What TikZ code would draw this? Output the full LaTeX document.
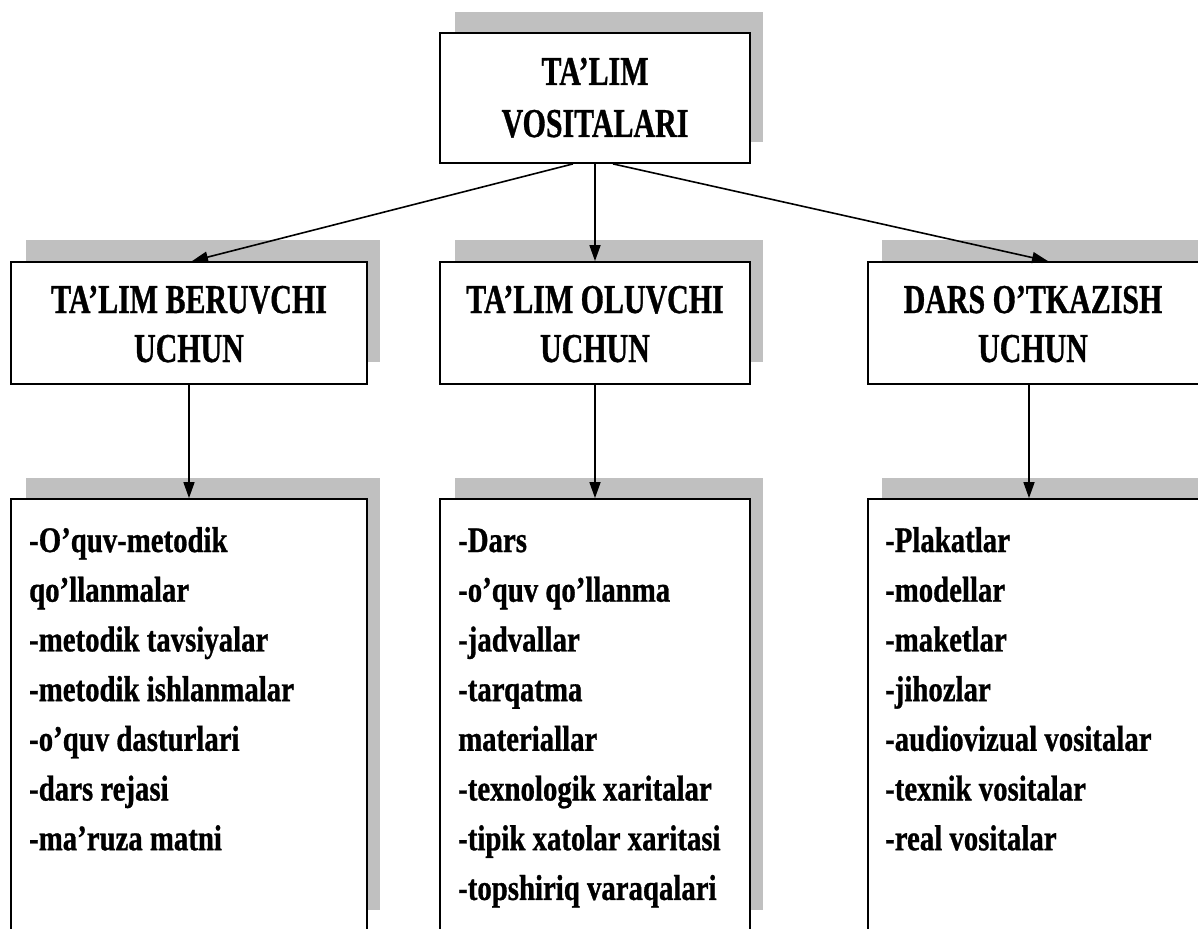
\documentclass[tikz,border=0pt]{standalone}
\usepackage{fontspec}
\setmainfont{Liberation Serif}
\newfontfamily\hdrfont[FakeStretch=0.73,FakeBold=0.8]{Liberation Serif}
\newfontfamily\bodyfont[FakeStretch=0.80,FakeBold=0.8]{Liberation Serif}
\usetikzlibrary{arrows.meta}
\definecolor{shadowgray}{HTML}{C0C0C0}
\newcommand\hdrtext[2]{\parbox[t]{340pt}{\centering\hdrfont\bfseries\fontsize{41}{#1}\selectfont #2}}
\newcommand\listtext[1]{\parbox[t]{330pt}{\raggedright\bodyfont\bfseries\fontsize{36}{49.7}\selectfont #1}}
\begin{document}
\begin{tikzpicture}[x=1pt,y=-1pt,
  box/.style={draw=black, line width=1.8pt, fill=white, inner sep=0pt},
  shadowbox/.style={fill=shadowgray, draw=none},
  arr/.style={line width=1.6pt, -{Triangle[length=16pt,width=11pt]}},
  hdr/.style={anchor=base, inner sep=0pt},
  lst/.style={anchor=base west, inner sep=0pt}]
\useasboundingbox (0,0) rectangle (1198,928);
\clip (0,0) rectangle (1198,928);
% shadows
\fill[shadowbox] (455,12) rectangle (763,142);
\fill[shadowbox] (26,240) rectangle (380,362);
\fill[shadowbox] (455,240) rectangle (763,362);
\fill[shadowbox] (882,240) rectangle (1215,362);
\fill[shadowbox] (26,478) rectangle (380,910);
\fill[shadowbox] (455,478) rectangle (763,910);
\fill[shadowbox] (882,478) rectangle (1215,910);
% boxes
\node[box, minimum width=310pt, minimum height=130pt] (top) at (595,98) {};
\node[box, minimum width=356pt, minimum height=122pt] (b1) at (189,323) {};
\node[box, minimum width=310pt, minimum height=122pt] (b2) at (595,323) {};
\node[box, minimum width=342pt, minimum height=122pt] (b3) at (1039,323) {};
\node[box, minimum width=356pt, minimum height=441pt] (c1) at (189,719.5) {};
\node[box, minimum width=310pt, minimum height=441pt] (c2) at (595,719.5) {};
\node[box, minimum width=342pt, minimum height=441pt] (c3) at (1039,719.5) {};
% texts
\node[hdr] (t0) at (595,85) {\hdrtext{52}{TA’LIM\\VOSITALARI}};
\node[hdr] (t1) at (189,313) {\hdrtext{49}{TA’LIM BERUVCHI\\UCHUN}};
\node[hdr] (t2) at (595,313) {\hdrtext{49}{TA’LIM OLUVCHI\\UCHUN}};
\node[hdr] (t3) at (1033,313) {\hdrtext{49}{DARS O’TKAZISH\\UCHUN}};
\node[lst] (l1) at (29,552) {\listtext{-O’quv-metodik\\qo’llanmalar\\-metodik tavsiyalar\\-metodik ishlanmalar\\-o’quv dasturlari\\-dars rejasi\\-ma’ruza matni}};
\node[lst] (l2) at (458,552) {\listtext{-Dars\\-o’quv qo’llanma\\-jadvallar\\-tarqatma\\materiallar\\-texnologik xaritalar\\-tipik xatolar xaritasi\\-topshiriq varaqalari}};
\node[lst] (l3) at (885,552) {\listtext{-Plakatlar\\-modellar\\-maketlar\\-jihozlar\\-audiovizual vositalar\\-texnik vositalar\\-real vositalar}};
% arrows
\draw[arr] ([xshift=-22pt]top.south) -- ([xshift=3pt]b1.north);
\draw[arr] (top.south) -- (b2.north);
\draw[arr] ([xshift=18pt]top.south) -- ([xshift=9pt]b3.north);
\draw[arr] (b1.south) -- (c1.north);
\draw[arr] (b2.south) -- (c2.north);
\draw[arr] ([xshift=-10pt]b3.south) -- ([xshift=-10pt]c3.north);
\end{tikzpicture}
\end{document}
